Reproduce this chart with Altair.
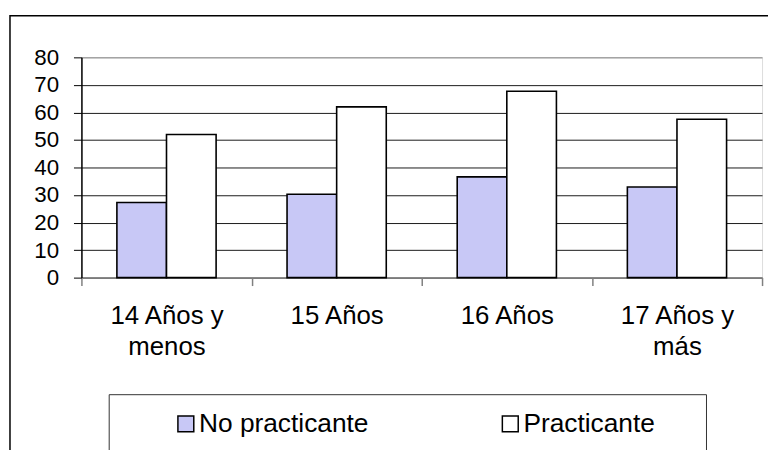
import altair as alt
import pandas as pd

categories = ["14 Años y menos", "15 Años", "16 Años", "17 Años y más"]
series = ["No practicante", "Practicante"]
no_practicante = [27.3, 30.3, 36.6, 32.9]
practicante = [52.0, 62.0, 67.7, 57.5]
y_ticks = [0, 10, 20, 30, 40, 50, 60, 70, 80]
colors = ["#C8C8F6", "#FFFFFF"]

rows = []
for c, a, b in zip(categories, no_practicante, practicante):
    rows.append({"cat": c, "serie": series[0], "val": a})
    rows.append({"cat": c, "serie": series[1], "val": b})
df = pd.DataFrame(rows)
one = pd.DataFrame({"k": [0]})

FONT = "Liberation Sans"

label_expr = ("indexof(datum.label, ' y ') > 0 ? "
              "[slice(datum.label, 0, indexof(datum.label, ' y ') + 2), "
              "slice(datum.label, indexof(datum.label, ' y ') + 3)] : datum.label")

bars = alt.Chart(df).mark_bar(stroke="black", strokeWidth=1.6).encode(
    x=alt.X("cat:N", sort=categories,
            scale=alt.Scale(paddingInner=0, paddingOuter=0),
            axis=alt.Axis(title=None, labelAngle=0, labelFont=FONT, labelFontSize=26,
                          labelColor="black", labelLineHeight=31, labelExpr=label_expr,
                          labelPadding=17, tickBand="extent", tickSize=8,
                          tickColor="#808080", tickWidth=1.5, domainColor="#808080",
                          domainWidth=1.5, grid=False, labelLimit=300)),
    xOffset=alt.XOffset("serie:N", sort=series,
                        scale=alt.Scale(paddingOuter=0.715, paddingInner=0)),
    y=alt.Y("val:Q", scale=alt.Scale(domain=[0, 80], nice=False),
            axis=alt.Axis(title=None, values=y_ticks, labelFont=FONT, labelFontSize=22.5,
                          labelColor="black", labelPadding=15, tickSize=8,
                          tickColor="black", tickWidth=1, domainColor="black",
                          domainWidth=1.5,
                          gridColor={"condition": {"test": "datum.value === 80", "value": "#808080"},
                                     "value": "#1a1a1a"},
                          gridWidth=1)),
    fill=alt.Fill("serie:N", sort=series,
                  scale=alt.Scale(domain=series, range=colors),
                  legend=alt.Legend(orient="none", legendX=92, legendY=356,
                                    direction="horizontal", title=None,
                                    symbolType="square", symbolSize=256,
                                    symbolStrokeColor="black", symbolStrokeWidth=1.5,
                                    labelFont=FONT, labelFontSize=26.5, labelColor="black",
                                    labelOffset=0, columnPadding=129, padding=0,
                                    labelLimit=400)),
)

frame = alt.Chart(one).mark_rect(fill="transparent", stroke="black", strokeWidth=1.5).encode(
    x=alt.value(-72), x2=alt.value(760), y=alt.value(-42), y2=alt.value(500)
)

legend_box = alt.Chart(one).mark_rect(fill="transparent", stroke="#333333", strokeWidth=1).encode(
    x=alt.value(28), x2=alt.value(630), y=alt.value(340), y2=alt.value(500)
)

chart = alt.layer(frame, legend_box, bars).properties(
    width=686, height=222,
    autosize=alt.AutoSizeParams(type="none"),
    padding={"left": 74, "top": 48, "right": 6, "bottom": 172},
).configure_view(stroke="#808080", strokeWidth=1.5).configure(background="white")

chart.save("out.html", embed_options={"renderer": "svg", "actions": False})
